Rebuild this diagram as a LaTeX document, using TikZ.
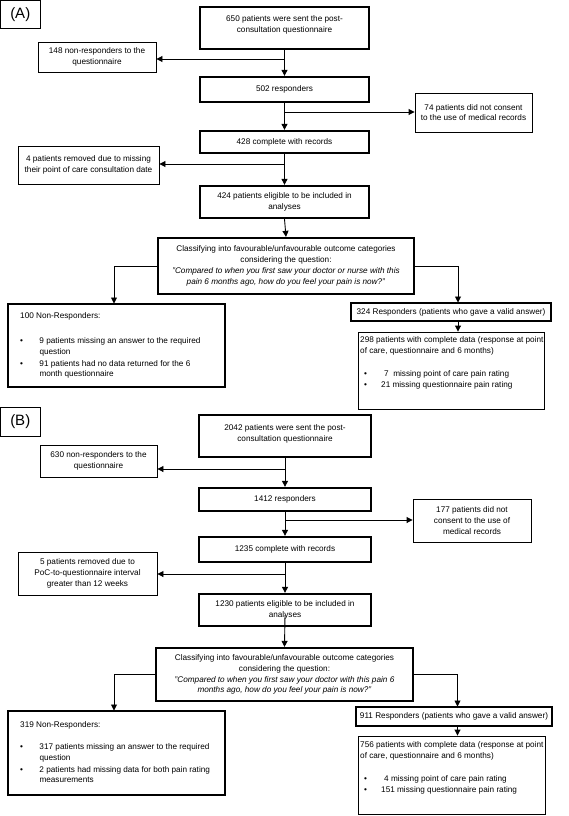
\documentclass[tikz,border=0pt]{standalone}
\usepackage{fontspec}
\setmainfont{Liberation Sans}
\usetikzlibrary{arrows.meta,calc}
\newcommand\flowbox[7]{\node[#2, minimum width={#5pt-#3pt}, minimum height={#6pt-#4pt}, align=center] (#1) at ({(#3+#5)/2},{(#4+#6)/2}) {#7};}
\begin{document}
\begin{tikzpicture}[x=1pt,y=-1pt,
  every node/.style={font=\fontsize{8.2}{10.8}\selectfont, inner sep=0pt},
  thickbox/.style={draw, line width=2.3pt},
  thinbox/.style={draw, line width=0.9pt},
  labelbox/.style={draw, line width=0.9pt, font=\fontsize{15}{18}\selectfont},
  conn/.style={line width=0.9pt},
  arr/.style={conn, -{Triangle[length=6pt,width=6pt]}},
]
\useasboundingbox (0,0) rectangle (568,816);

% ---------------- (A) ----------------
\flowbox{labA}{labelbox}{0.5}{0.5}{40}{28}{(A)}
\flowbox{b650}{thickbox}{200}{7}{369}{49}{}
\node[anchor=north, align=center] (t650) at (284.5,15.1) {650 patients were sent the post-\\consultation questionnaire};
\flowbox{b148}{thinbox}{38}{42}{156}{72}{148 non-responders to the\\questionnaire}
\flowbox{b502}{thickbox}{200}{77}{369}{102}{502 responders}
\flowbox{b74}{thinbox}{415}{93}{532}{132}{74 patients did not consent\\to the use of medical records}
\flowbox{b428}{thickbox}{200}{131}{369}{153}{428 complete with records}
\flowbox{b4}{thinbox}{18}{146}{159}{184}{4 patients removed due to missing\\their point of care consultation date}
\flowbox{b424}{thickbox}{200}{186}{369}{218}{424 patients eligible to be included in\\analyses}
\flowbox{cA}{thickbox}{158}{238}{414}{294}{Classifying into favourable/unfavourable outcome categories\\considering the question:\\\textit{"Compared to when you first saw your doctor or nurse with this}\\\textit{pain 6 months ago, how do you feel your pain is now?"}}
\flowbox{b100}{thickbox}{8}{304}{225}{387}{}
\node[anchor=north west] (t100) at (20,310.5) {\begin{tabular}{@{}p{19.3pt}@{}l@{}}
\multicolumn{2}{@{}l@{}}{100 Non-Responders:}\\[14.2pt]
•&9 patients missing an answer to the required\\
&question\\[1.2pt]
•&91 patients had no data returned for the 6\\
&month questionnaire
\end{tabular}};
\flowbox{b324}{thickbox}{351}{303}{551}{321}{324 Responders (patients who gave a valid answer)}
\flowbox{b298}{thinbox}{358}{332}{544}{409}{}
\node[anchor=north west] (t298) at (360,335.2) {\begin{tabular}{@{}p{21pt}@{}l@{}}
\multicolumn{2}{@{}l@{}}{298 patients with complete data (response at point}\\
\multicolumn{2}{@{}l@{}}{of care, questionnaire and 6 months)}\\[12.2pt]
\hspace*{4pt}•&\hspace*{3pt}7~~missing point of care pain rating\\
\hspace*{4pt}•&21 missing questionnaire pain rating
\end{tabular}};

\draw[arr] (b650.south) -- (b502.north);
\coordinate (jA1) at (284.5,59);
\draw[arr] (jA1) -- (jA1 -| b148.east);
\draw[arr] (b502.south) -- (b428.north);
\coordinate (jA2) at (284.5,112);
\draw[arr] (jA2) -- (jA2 -| b74.west);
\draw[arr] (b428.south) -- (b424.north);
\coordinate (jA3) at (284.5,164);
\draw[arr] (jA3) -- (jA3 -| b4.east);
\draw[arr] (b424.south) -- (cA.north);
\coordinate (lA) at (114,303.5);
\draw[arr] (cA.west) -| (lA);
\coordinate (rA) at (458,302.5);
\draw[arr] (cA.east) -| (rA);
\draw[arr] (b324.south -| rA) -- (b298.north -| rA);

% ---------------- (B) ----------------
\flowbox{labB}{labelbox}{0.5}{407}{40}{436}{(B)}
\flowbox{b2042}{thickbox}{199}{415}{371}{457}{}
\node[anchor=north, align=center] (t2042) at (285,424.1) {2042 patients were sent the post-\\consultation questionnaire};
\flowbox{b630}{thinbox}{40}{445}{157}{477}{630 non-responders to the\\questionnaire}
\flowbox{b1412}{thickbox}{199}{488}{371}{511}{1412 responders}
\flowbox{b177}{thinbox}{413}{499}{531}{542}{177 patients did not\\consent to the use of\\medical records}
\flowbox{b1235}{thickbox}{199}{537}{371}{562}{1235 complete with records}
\flowbox{b5}{thinbox}{18}{552}{157}{595}{5 patients removed due to\\PoC-to-questionnaire interval\\greater than 12 weeks}
\flowbox{b1230}{thickbox}{199}{594}{371}{626}{1230 patients eligible to be included in\\analyses}
\flowbox{cB}{thickbox}{156}{648}{413}{701}{Classifying into favourable/unfavourable outcome categories\\considering the question:\\\textit{"Compared to when you first saw your doctor with this pain 6}\\\textit{months ago, how do you feel your pain is now?"}}
\flowbox{b319}{thickbox}{8}{711}{225}{795}{}
\node[anchor=north west] (t319) at (20,719.5) {\begin{tabular}{@{}p{19.3pt}@{}l@{}}
\multicolumn{2}{@{}l@{}}{319 Non-Responders:}\\[11.2pt]
•&317 patients missing an answer to the required\\
&question\\[1.2pt]
•&2 patients had missing data for both pain rating\\
&measurements
\end{tabular}};
\flowbox{b911}{thickbox}{356}{707}{552}{726}{911 Responders (patients who gave a valid answer)}
\flowbox{b756}{thinbox}{358}{736}{545}{814}{}
\node[anchor=north west] (t756) at (360,739.9) {\begin{tabular}{@{}p{21pt}@{}l@{}}
\multicolumn{2}{@{}l@{}}{756 patients with complete data (response at point}\\
\multicolumn{2}{@{}l@{}}{of care, questionnaire and 6 months)}\\[12.5pt]
\hspace*{4pt}•&\hspace*{3pt}4 missing point of care pain rating\\
\hspace*{4pt}•&151 missing questionnaire pain rating
\end{tabular}};

\draw[arr] (b2042.south) -- (b1412.north);
\coordinate (jB1) at (285,469);
\draw[arr] (jB1) -- (jB1 -| b630.east);
\draw[arr] (b1412.south) -- (b1235.north);
\coordinate (jB2) at (285,520);
\draw[arr] (jB2) -- (jB2 -| b177.west);
\draw[arr] (b1235.south) -- (b1230.north);
\coordinate (jB3) at (285,574);
\draw[arr] (jB3) -- (jB3 -| b5.east);
\draw[arr] ($(b1230.south)+(0,-12)$) -- (cB.north);
\coordinate (lB) at (114,710.5);
\draw[arr] (cB.west) -| (lB);
\coordinate (rB) at (457.5,706.5);
\draw[arr] (cB.east) -| (rB);
\draw[arr] (b911.south -| rB) -- (b756.north -| rB);
\end{tikzpicture}
\end{document}
